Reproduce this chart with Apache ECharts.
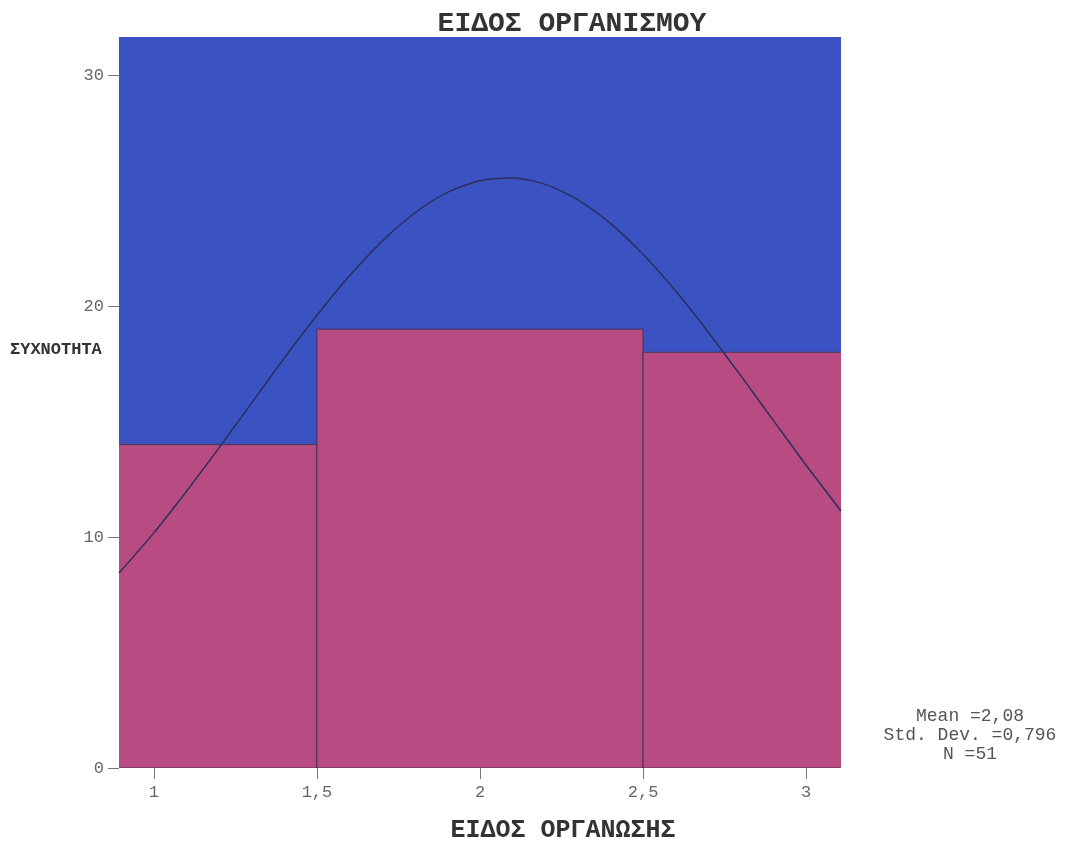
<!DOCTYPE html>
<html><head><meta charset="utf-8">
<script src="https://cdn.jsdelivr.net/npm/echarts@6/dist/echarts.min.js"></script>
<style>html,body{margin:0;padding:0;background:#fff}#c{width:1065px;height:843px}</style>
</head><body><div id="c"></div>
<script>
// Histogram bins: [start, end, frequency]
const binStarts = [0.5, 1.5, 2.5];
const binEnds = [1.5, 2.5, 3.5];
const frequencies = [14, 19, 18];
// Normal curve points
const curveX = [0.893, 1.0, 1.1, 1.2, 1.3, 1.4, 1.5, 1.6, 1.7, 1.8, 1.9, 2.0, 2.1, 2.2, 2.3, 2.4, 2.5, 2.6, 2.7, 2.8, 2.9, 3.0, 3.107];
const curveY = [8.44, 10.18, 11.98, 13.87, 15.81, 17.75, 19.6, 21.31, 22.81, 24.03, 24.92, 25.43, 25.55, 25.27, 24.6, 23.58, 22.24, 20.65, 18.87, 16.98, 15.04, 13.11, 11.13];
const xTicks = [1, 1.5, 2, 2.5, 3];
const yTicks = [0, 10, 20, 30];
const statsLines = ['Mean =2,08', 'Std. Dev. =0,796', 'N =51'];

const FONT = '"Liberation Mono", "Courier New", monospace';
const chart = echarts.init(document.getElementById('c'));
chart.setOption({
  animation: false,
  title: {
    text: 'ΕΙΔΟΣ ΟΡΓΑΝΙΣΜΟΥ', left: 567, top: 5, textAlign: 'center',
    textStyle: {fontFamily: FONT, fontSize: 28, fontWeight: 'bold', color: '#333'}
  },
  grid: {left: 119, right: 224, top: 37, bottom: 75, outerBoundsMode: 'none', containLabel: false,
    show: true, backgroundColor: '#3a52c2', borderWidth: 0},
  xAxis: {
    type: 'value', min: 0.893, max: 3.107,
    axisLine: {show: false},
    splitLine: {show: false},
    axisTick: {show: true, length: 11, customValues: xTicks, lineStyle: {color: '#777'}},
    axisLabel: {customValues: xTicks, margin: 16, fontFamily: FONT, fontSize: 17, color: '#666',
      formatter: v => String(v).replace('.', ',')}
  },
  yAxis: {
    type: 'value', min: 0, max: 31.65,
    axisLine: {show: false},
    splitLine: {show: false},
    axisTick: {show: true, length: 11, customValues: yTicks, lineStyle: {color: '#777'}},
    axisLabel: {customValues: yTicks, margin: 15, fontFamily: FONT, fontSize: 17, color: '#666'}
  },
  graphic: [
    {type: 'text', left: 10, top: 341, style: {text: 'ΣΥΧΝΟΤΗΤΑ', fontFamily: FONT, fontSize: 17, fontWeight: 'bold', fill: '#333'}},
    {type: 'text', x: 563, y: 818, style: {text: 'ΕΙΔΟΣ ΟΡΓΑΝΩΣΗΣ', fontFamily: FONT, fontSize: 25, fontWeight: 'bold', fill: '#333', align: 'center'}},
    {type: 'text', x: 970, y: 707, style: {text: statsLines.join('\n'), fontFamily: FONT, fontSize: 18, lineHeight: 19, fill: '#555', align: 'center'}}
  ],
  series: [
    {
      type: 'custom', clip: true,
      data: frequencies.map((f, i) => [binStarts[i], binEnds[i], f]),
      encode: {x: [0, 1], y: 2},
      renderItem: (params, api) => {
        const p0 = api.coord([api.value(0), api.value(2)]);
        const p1 = api.coord([api.value(1), 0]);
        return {
          type: 'rect',
          shape: {x: p0[0], y: p0[1], width: p1[0] - p0[0], height: p1[1] - p0[1]},
          style: {fill: '#b84b82', stroke: '#4a3550', lineWidth: 1}
        };
      }
    },
    {
      type: 'line', smooth: 0.25, symbol: 'none',
      data: curveX.map((x, i) => [x, curveY[i]]),
      lineStyle: {color: '#2b2f5e', width: 1.5}
    }
  ]
});
</script></body></html>
